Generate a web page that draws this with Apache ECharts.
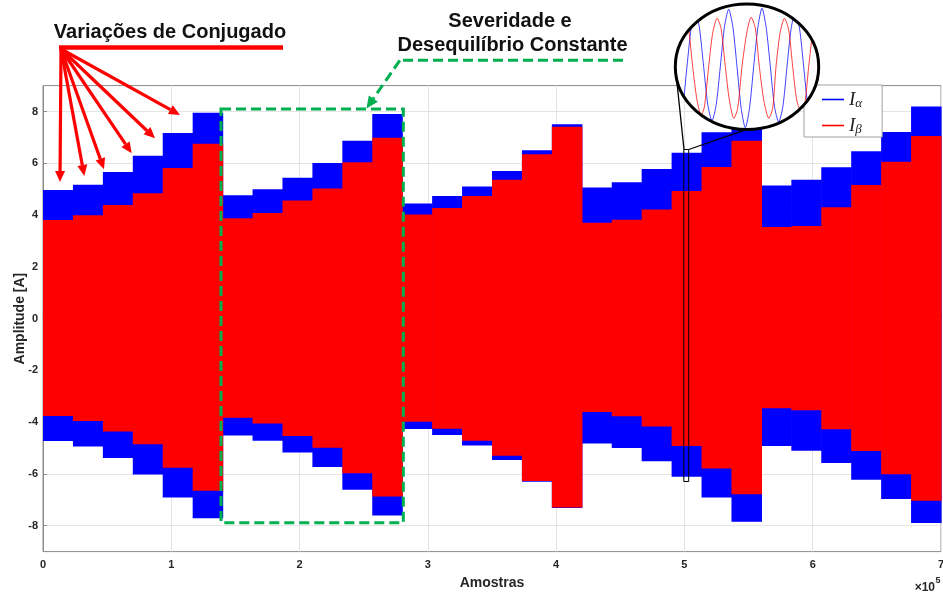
<!DOCTYPE html>
<html><head><meta charset="utf-8">
<script src="https://cdn.jsdelivr.net/npm/echarts@6/dist/echarts.min.js"></script>
<style>html,body{margin:0;padding:0;background:#fff}#c{width:943px;height:592px}</style>
</head><body><div id="c"></div>
<script>
// ---- data (samples; amplitudes in A) ----
const segEdges = [0, 23333, 46667, 70000, 93333, 116667, 140000, 163333, 186667, 210000, 233333, 256667, 280000, 303333, 326667, 350000, 373333, 396667, 420000, 443333, 466667, 490000, 513333, 536667, 560000, 583333, 606667, 630000, 653333, 676667, 700000];
const alphaHi = [4.97, 5.17, 5.66, 6.29, 7.17, 7.95, 4.76, 5.00, 5.44, 6.01, 6.87, 7.90, 4.45, 4.74, 5.10, 5.70, 6.50, 7.51, 5.06, 5.27, 5.78, 6.41, 7.20, 7.85, 5.14, 5.36, 5.85, 6.46, 7.21, 8.19];
const alphaLo = [-4.73, -4.94, -5.38, -6.02, -6.91, -7.71, -4.52, -4.72, -5.17, -5.73, -6.61, -7.61, -4.26, -4.50, -4.90, -5.46, -6.30, -7.32, -4.82, -5.00, -5.51, -6.11, -6.91, -7.85, -4.92, -5.10, -5.58, -6.22, -6.97, -7.90];
const betaHi = [3.81, 3.99, 4.39, 4.84, 5.82, 6.75, 3.88, 4.08, 4.56, 5.03, 6.04, 6.99, 4.02, 4.27, 4.74, 5.36, 6.35, 7.41, 3.70, 3.82, 4.21, 4.93, 5.86, 6.87, 3.54, 3.58, 4.30, 5.16, 6.06, 7.05];
const betaLo = [-3.76, -3.96, -4.36, -4.85, -5.76, -6.65, -3.83, -4.05, -4.53, -4.99, -5.97, -6.87, -3.98, -4.25, -4.72, -5.30, -6.27, -7.30, -3.61, -3.77, -4.17, -4.92, -5.79, -6.78, -3.46, -3.54, -4.27, -5.11, -6.01, -7.04];
const xTicks = [0, 100000, 200000, 300000, 400000, 500000, 600000, 700000];
const yTicks = [-8, -6, -4, -2, 0, 2, 4, 6, 8];
// zoomed inset (waveform detail)
const insetTa = [10, 20, 32.5, 45, 57.5, 70, 82.5, 95, 107.5, 120, 132.5, 145, 157.5, 170, 182.5, 195, 207.5, 220, 232.5, 245, 257.5, 270, 282.5, 295, 307.5, 320, 332.5, 345, 357.5, 370, 382.5, 395, 407.5, 420, 432.5, 440];
const insetAlpha = [-4.82, -6.07, -4.11, 0.18, 4.29, 6.25, 4.29, 0.18, -3.93, -5.61, -3.93, 0.18, 4.46, 6.32, 4.46, 0.18, -4.29, -6.36, -4.29, 0.18, 4.36, 6.43, 4.36, 0.18, -4.11, -5.75, -4.11, 0.18, 4.29, 6.07, 4.29, 0.18, -4.11, -5.89, -4.11, -2.30];
const insetTb = [10, 22, 37, 50, 62, 75, 87, 97, 110, 122, 135, 147, 160, 172, 185, 197, 210, 224, 237, 250, 262, 276, 290, 302, 312, 324, 337, 350, 362, 374, 385, 397, 410, 422, 435];
const insetBeta = [0.89, 3.75, 5.36, 4.11, 0.18, -3.39, -5.00, -4.18, 0.18, 3.75, 5.36, 4.29, 0.18, -3.39, -5.36, -4.29, 0.18, 3.75, 5.46, 4.29, 0.18, -3.57, -5.36, -4.29, 0.18, 3.75, 5.36, 4.11, 0.18, -3.39, -4.46, -4.11, 0.18, 3.75, 5.18];

const BLUE = '#0000ff', RED = '#ff0000', GREEN = '#00b050';
const FONT = '"Liberation Sans", Arial, sans-serif';

function bandItem(params, api) {
  const p0 = api.coord([api.value(0), api.value(3)]);
  const p1 = api.coord([api.value(1), api.value(2)]);
  return { type: 'rect', shape: { x: p0[0], y: p0[1], width: p1[0] - p0[0] + 0.6, height: p1[1] - p0[1] },
           style: { fill: api.visual('color') } };
}
function insetLine(params, api) {
  if (params.dataIndexInside !== 0) return null;
  const pts = [];
  for (let j = 0; j < params.dataInsideLength; j++) pts.push(api.coord([api.value(0, j), api.value(1, j)]));
  const cs = params.coordSys;
  return { type: 'polyline', shape: { points: pts, smooth: 0.25 },
           style: { stroke: api.visual('color'), lineWidth: 1, fill: null, opacity: 0.75 },
           clipPath: { type: 'ellipse', shape: { cx: cs.x + cs.width / 2, cy: cs.y + cs.height / 2, rx: cs.width / 2, ry: cs.height / 2 } } };
}
function arrow(x0, y0, x1, y1, color, lw, L, W, z, dash) {
  const dx = x1 - x0, dy = y1 - y0, len = Math.hypot(dx, dy);
  const ux = dx / len, uy = dy / len;
  const bx = x1 - ux * L, by = y1 - uy * L;
  return [
    { type: 'line', z: z, silent: true, shape: { x1: x0, y1: y0, x2: bx, y2: by },
      style: { stroke: color, lineWidth: lw, lineDash: dash || null } },
    { type: 'polygon', z: z, silent: true, shape: { points: [[x1, y1], [bx - uy * W, by + ux * W], [bx + uy * W, by - ux * W]] },
      style: { fill: color } }
  ];
}

const chart = echarts.init(document.getElementById('c'), null, { renderer: 'canvas' });
const axisColor = '#8c8c8c', labelColor = '#262626', gridColor = '#e4e4e4';

const graphics = [];
// red annotation
graphics.push({ type: 'text', z: 20, style: { text: 'Variações de Conjugado', x: 170, y: 32.5, align: 'center', verticalAlign: 'middle',
  font: 'bold 20px ' + FONT, fill: '#111' } });
graphics.push({ type: 'line', z: 20, shape: { x1: 59, y1: 47.5, x2: 283, y2: 47.5 }, style: { stroke: RED, lineWidth: 4.5 } });
[[60, 182], [84.3, 176], [104, 169.3], [131.7, 153.3], [155, 138.3], [180, 115]].forEach(t => {
  graphics.push(...arrow(61, 49, t[0], t[1], RED, 3.2, 11, 5, 20));
});
// green annotation
graphics.push({ type: 'text', z: 20, style: { text: 'Severidade e', x: 510, y: 21.5, align: 'center', verticalAlign: 'middle',
  font: 'bold 20px ' + FONT, fill: '#111' } });
graphics.push({ type: 'text', z: 20, style: { text: 'Desequilíbrio Constante', x: 512.5, y: 45.8, align: 'center', verticalAlign: 'middle',
  font: 'bold 20px ' + FONT, fill: '#111' } });
graphics.push({ type: 'polyline', z: 20, shape: { points: [[623, 60.3], [399.8, 60.3]] }, style: { stroke: GREEN, lineWidth: 3, lineDash: [10, 5], fill: null } });
graphics.push(...arrow(399.8, 60.3, 366.5, 108.5, GREEN, 3, 12, 5.5, 20, [10, 5]));
graphics.push({ type: 'rect', z: 20, shape: { x: 221, y: 109, width: 182.3, height: 413.7 }, style: { stroke: GREEN, lineWidth: 3, lineDash: [10, 5], fill: null } });
// zoom inset frame
graphics.push({ type: 'rect', z: 9, shape: { x: 683.8, y: 149.5, width: 4.9, height: 332 }, style: { stroke: '#000', lineWidth: 1, fill: null } });
graphics.push({ type: 'line', z: 9, shape: { x1: 684, y1: 149.5, x2: 675.3, y2: 66.7 }, style: { stroke: '#000', lineWidth: 1.3 } });
graphics.push({ type: 'line', z: 9, shape: { x1: 688.7, y1: 149.5, x2: 747, y2: 129.3 }, style: { stroke: '#000', lineWidth: 1.3 } });
graphics.push({ type: 'ellipse', z: 10, shape: { cx: 747, cy: 66.7, rx: 71.7, ry: 62.7 }, style: { fill: '#fff', stroke: null } });
graphics.push({ type: 'ellipse', z: 12, shape: { cx: 747, cy: 66.7, rx: 71.7, ry: 62.7 }, style: { fill: null, stroke: '#000', lineWidth: 3 } });
// exponent
graphics.push({ type: 'text', z: 20, style: { text: '×10', x: 935, y: 588, align: 'right', verticalAlign: 'middle', font: 'bold 12px ' + FONT, fill: labelColor } });
graphics.push({ type: 'text', z: 20, style: { text: '5', x: 935.5, y: 581, align: 'left', verticalAlign: 'middle', font: 'bold 9px ' + FONT, fill: labelColor } });

const option = {
  animation: false,
  backgroundColor: '#fff',
  grid: [
    { left: 43, right: 2, top: 85.6, bottom: 40.4, containLabel: false, outerBoundsMode: 'none',
      show: true, borderColor: axisColor, borderWidth: 1, backgroundColor: 'transparent' },
    { left: 675.3, top: 4, width: 143.4, height: 125.3, show: false, containLabel: false, outerBoundsMode: 'none' }
  ],
  xAxis: [
    { type: 'value', gridIndex: 0, min: 0, max: 700000, interval: 100000,
      name: 'Amostras', nameLocation: 'middle', nameGap: 25,
      nameTextStyle: { fontFamily: FONT, fontWeight: 'bold', fontSize: 14, color: labelColor },
      axisLine: { show: true, lineStyle: { color: axisColor } },
      axisTick: { show: true, inside: true, length: 4, lineStyle: { color: axisColor } },
      axisLabel: { margin: 8, fontFamily: FONT, fontWeight: 'bold', fontSize: 11, color: labelColor, formatter: v => String(v / 100000) },
      splitLine: { show: true, lineStyle: { color: gridColor } } },
    { type: 'value', gridIndex: 1, min: 10, max: 440, show: false }
  ],
  yAxis: [
    { type: 'value', gridIndex: 0, min: -9, max: 9,
      name: 'Amplitude [A]', nameLocation: 'middle', nameGap: 16, nameRotate: 90, nameMoveOverlap: false,
      nameTextStyle: { fontFamily: FONT, fontWeight: 'bold', fontSize: 14, color: labelColor },
      axisLine: { show: true, lineStyle: { color: axisColor } },
      axisTick: { show: true, inside: true, length: 4, lineStyle: { color: axisColor }, customValues: yTicks },
      axisLabel: { margin: 5, fontFamily: FONT, fontWeight: 'bold', fontSize: 11, color: labelColor, customValues: yTicks },
      splitLine: { show: true, lineStyle: { color: gridColor } } },
    { type: 'value', gridIndex: 1, min: -6.54, max: 6.89, show: false }
  ],
  legend: {
    orient: 'vertical', left: 804, top: 85, z: 4,
    backgroundColor: '#fff', borderColor: '#a0a0a0', borderWidth: 1,
    padding: [4, 20, 1, 18], itemGap: 5, itemWidth: 22, itemHeight: 1.6, selectedMode: false,
    data: [{ name: 'Ia', icon: 'rect' }, { name: 'Ib', icon: 'rect' }],
    formatter: n => n === 'Ia' ? '{i|I}{s|α}' : '{i|I}{s|β}',
    textStyle: { rich: {
      i: { fontFamily: '"Liberation Serif", "DejaVu Serif", serif', fontStyle: 'italic', fontSize: 19, lineHeight: 20, color: '#222' },
      s: { fontFamily: '"Liberation Serif", "DejaVu Serif", serif', fontStyle: 'italic', fontSize: 13, lineHeight: 20, padding: [8, 0, 0, 0], color: '#222' }
    } }
  },
  series: [
    { name: 'Ia', type: 'custom', xAxisIndex: 0, yAxisIndex: 0, z: 2, renderItem: bandItem, itemStyle: { color: BLUE },
      encode: { x: [0, 1], y: [2, 3] },
      data: alphaHi.map((h, i) => [segEdges[i], segEdges[i + 1], alphaLo[i], h]) },
    { name: 'Ib', type: 'custom', xAxisIndex: 0, yAxisIndex: 0, z: 3, renderItem: bandItem, itemStyle: { color: RED },
      encode: { x: [0, 1], y: [2, 3] },
      data: betaHi.map((h, i) => [segEdges[i], segEdges[i + 1], betaLo[i], h]) },
    { name: 'inset-a', type: 'custom', xAxisIndex: 1, yAxisIndex: 1, z: 11, clip: false, renderItem: insetLine, itemStyle: { color: BLUE },
      encode: { x: 0, y: 1 }, data: insetTa.map((t, i) => [t, insetAlpha[i]]) },
    { name: 'inset-b', type: 'custom', xAxisIndex: 1, yAxisIndex: 1, z: 11, clip: false, renderItem: insetLine, itemStyle: { color: RED },
      encode: { x: 0, y: 1 }, data: insetTb.map((t, i) => [t, insetBeta[i]]) }
  ],
  graphic: { elements: graphics }
};
chart.setOption(option);
</script></body></html>
